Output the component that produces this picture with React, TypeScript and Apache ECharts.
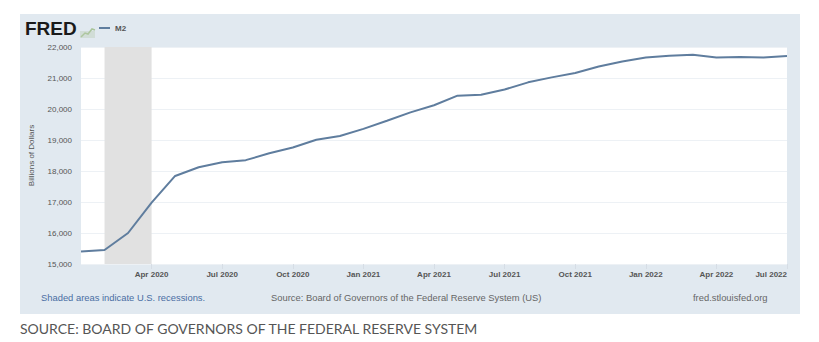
import React, { useEffect, useRef } from "react";
import * as echarts from "echarts";

const months: string[] = [
  "Jan 2020", "Feb 2020", "Mar 2020", "Apr 2020", "May 2020", "Jun 2020",
  "Jul 2020", "Aug 2020", "Sep 2020", "Oct 2020", "Nov 2020", "Dec 2020",
  "Jan 2021", "Feb 2021", "Mar 2021", "Apr 2021", "May 2021", "Jun 2021",
  "Jul 2021", "Aug 2021", "Sep 2021", "Oct 2021", "Nov 2021", "Dec 2021",
  "Jan 2022", "Feb 2022", "Mar 2022", "Apr 2022", "May 2022", "Jun 2022",
  "Jul 2022",
];

const m2Values: number[] = [
  15400, 15450, 16000, 16980, 17840, 18120,
  18280, 18350, 18570, 18760, 19010, 19130,
  19360, 19620, 19890, 20120, 20430, 20460,
  20630, 20860, 21020, 21160, 21370, 21530,
  21660, 21720, 21750, 21660, 21680, 21660,
  21710,
];

const recessionStart = "Feb 2020";
const recessionEnd = "Apr 2020";
const labelMonths = ["Jan", "Apr", "Jul", "Oct"];

export default function App() {
  const ref = useRef<HTMLDivElement>(null);
  useEffect(() => {
    if (!ref.current) return;
    const chart = echarts.init(ref.current, undefined, { renderer: "svg" });
    const showIdx = (i: number) =>
      i > 0 && labelMonths.indexOf(months[i].slice(0, 3)) >= 0;
    chart.setOption({
      animation: false,
      backgroundColor: "#ffffff",
      textStyle: { fontFamily: "Liberation Sans, Arial, sans-serif" },
      grid: { left: 81, right: 32, top: 47, bottom: 78, backgroundColor: "#ffffff", show: true, borderWidth: 0 },
      graphic: [
        { type: "rect", z: -10, shape: { x: 20, y: 14, width: 780, height: 300 }, style: { fill: "#e1e9f0" } },
        { type: "rect", z: -9, shape: { x: 81, y: 47, width: 706, height: 217 }, style: { fill: "#ffffff" } },
        { type: "text", x: 25, y: 19, style: { text: "FRED", font: "900 19px 'Liberation Sans', Arial, sans-serif", fill: "#1a1a1a" } },
        { type: "polyline", shape: { points: [[81, 37], [85, 33], [88, 34], [92, 29], [95, 30]] }, style: { stroke: "#a9c59a", lineWidth: 1.5, fill: "none" } },
        { type: "rect", shape: { x: 80, y: 31, width: 15, height: 7 }, style: { fill: "rgba(180,200,170,0.35)" } },
        { type: "line", shape: { x1: 99, y1: 28, x2: 110, y2: 28 }, style: { stroke: "#5f7d9e", lineWidth: 2 } },
        { type: "text", x: 115, y: 24, style: { text: "M2", font: "bold 8px 'Liberation Sans', Arial, sans-serif", fill: "#555555" } },
        { type: "text", x: 41, y: 293, style: { text: "Shaded areas indicate U.S. recessions.", font: "9.4px 'Liberation Sans', Arial, sans-serif", fill: "#4a6ea3" } },
        { type: "text", x: 271, y: 293, style: { text: "Source: Board of Governors of the Federal Reserve System (US)", font: "9.4px 'Liberation Sans', Arial, sans-serif", fill: "#666666" } },
        { type: "text", x: 693, y: 293, style: { text: "fred.stlouisfed.org", font: "9.4px 'Liberation Sans', Arial, sans-serif", fill: "#666666" } },
        { type: "text", x: 20, y: 321, style: { text: "SOURCE: BOARD OF GOVERNORS OF THE FEDERAL RESERVE SYSTEM", font: "14px Lato, sans-serif", fill: "#555555" } },
      ],
      xAxis: {
        type: "category",
        data: months,
        boundaryGap: false,
        axisLine: { show: false },
        axisTick: { show: true, interval: (i: number) => showIdx(i), length: 5, lineStyle: { color: "#d6dde5" } },
        axisLabel: {
          interval: (i: number) => showIdx(i),
          color: "#555555",
          fontSize: 8,
          fontWeight: "bold",
          margin: 6,
          alignMaxLabel: "right",
        },
        splitLine: { show: false },
      },
      yAxis: {
        type: "value",
        min: 15000,
        max: 22000,
        interval: 1000,
        name: "Billions of Dollars",
        nameLocation: "middle",
        nameRotate: 90,
        nameGap: 46,
        nameTextStyle: { color: "#555555", fontSize: 8 },
        axisLine: { show: false },
        axisTick: { show: false },
        axisLabel: {
          color: "#555555",
          fontSize: 8,
          margin: 9,
          formatter: (v: number) => v.toLocaleString("en-US"),
        },
        splitLine: { lineStyle: { color: "#edf1f5", width: 1 } },
      },
      series: [
        {
          type: "line",
          name: "M2",
          data: m2Values,
          symbol: "none",
          lineStyle: { color: "#5f7d9e", width: 2 },
          markArea: {
            silent: true,
            itemStyle: { color: "#e1e1e1" },
            data: [[{ xAxis: recessionStart }, { xAxis: recessionEnd }]],
          },
        },
      ],
    });
    return () => chart.dispose();
  }, []);
  return (
    <div
      ref={ref}
      style={{ position: "absolute", left: 0, top: 0, width: 819, height: 342 }}
    />
  );
}
